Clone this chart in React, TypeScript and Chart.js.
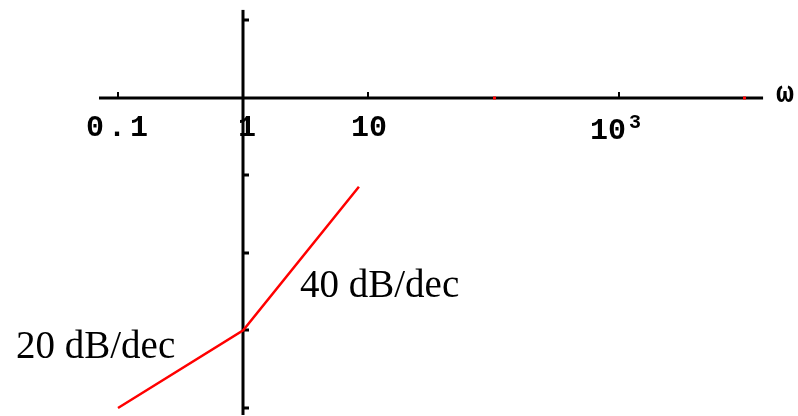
import React, { useEffect, useRef } from "react";
import { Chart, registerables } from "chart.js";

Chart.register(...registerables);

// Asymptotic Bode magnitude: 20 dB/dec below ω = 1, 40 dB/dec above
const omega = [0.1, 1, 8.4];
const gainDb = [-80, -60, -23];

// Frequency axis: labelled decades and the red marks on the axis
const xTickValues = [0.1, 1, 10, 1000];
const xTickText = ["0.1", "1", "10", "10"];
const xTickSup = ["", "", "", "3"];
const xRedMarks = [100, 10000];
const xAxisRange = [0.0705, 14200];

// Magnitude axis ticks (dB)
const yTickValues = [20, -20, -40, -60, -80];
const yAxisRange = [22.6, -81.8];

const slopeLabels = ["20 dB/dec", "40 dB/dec"];

const axesPlugin = {
  id: "crossAxes",
  beforeDatasetsDraw(chart: any) {
    const ctx = chart.ctx as CanvasRenderingContext2D;
    const xs = chart.scales.x;
    const ys = chart.scales.y;
    const y0 = Math.round(ys.getPixelForValue(0));
    const x1 = Math.round(xs.getPixelForValue(1));
    ctx.save();
    ctx.fillStyle = "#000";
    // horizontal axis
    const xa = xs.getPixelForValue(xAxisRange[0]);
    const xb = xs.getPixelForValue(xAxisRange[1]);
    ctx.fillRect(xa, y0 - 1.5, xb - xa, 3);
    // vertical axis
    const ya = ys.getPixelForValue(yAxisRange[0]);
    const yb = ys.getPixelForValue(yAxisRange[1]);
    ctx.fillRect(x1 - 1.5, ya, 3, yb - ya);

    // x ticks (upward) and labels
    xTickValues.forEach((v, i) => {
      const px = Math.round(xs.getPixelForValue(v));
      ctx.fillStyle = "#000";
      ctx.fillRect(px - 1, y0 - 6, 2, 6);
      ctx.font = "bold 30px 'Liberation Mono', monospace";
      ctx.textBaseline = "alphabetic";
      const txt = xTickText[i];
      const sup = xTickSup[i];
      const w = ctx.measureText(txt).width;
      if (sup) {
        ctx.textAlign = "left";
        ctx.fillText(txt, px - 29, y0 + 41);
        ctx.font = "bold 20px 'Liberation Mono', monospace";
        ctx.fillText(sup, px - 29 + w + 3, y0 + 30);
      } else {
        ctx.textAlign = "center";
        ctx.letterSpacing = txt === "0.1" ? "4px" : "0px";
        ctx.fillText(txt, px + (txt === "1" ? 4 : 1), y0 + 38);
        ctx.letterSpacing = "0px";
      }
    });
    // red marks
    ctx.fillStyle = "#ff0000";
    xRedMarks.forEach((v) => {
      const px = Math.round(xs.getPixelForValue(v));
      ctx.fillRect(px - 1, y0 - 1.5, 3, 3);
    });

    // y ticks to the right of the axis
    ctx.fillStyle = "#000";
    yTickValues.forEach((v) => {
      const py = Math.round(ys.getPixelForValue(v));
      ctx.fillRect(x1, py - 1.5, 6, 3);
    });

    // ω label at the end of the frequency axis
    ctx.font = "bold 30px 'Liberation Mono', monospace";
    ctx.textAlign = "left";
    ctx.fillText("ω", 776, y0 + 4);

    // slope annotations
    ctx.font = "39px 'Liberation Serif', serif";
    ctx.fillText(slopeLabels[0], 16, 358);
    ctx.fillText(slopeLabels[1], 300, 297);
    ctx.restore();
  },
};

export default function App() {
  const ref = useRef<HTMLCanvasElement>(null);
  useEffect(() => {
    document.body.style.margin = "0";
    const chart = new Chart(ref.current!, {
      type: "line",
      data: {
        datasets: [
          {
            data: omega.map((w, i) => ({ x: w, y: gainDb[i] })),
            borderColor: "#ff0000",
            borderWidth: 2.5,
            pointRadius: 0,
            fill: false,
            tension: 0,
            clip: false as any,
          },
        ],
      },
      options: {
        animation: false,
        responsive: false,
        events: [],
        layout: { padding: { left: 118, right: 54, top: 20, bottom: 8 } },
        plugins: { legend: { display: false }, tooltip: { enabled: false } },
        scales: {
          x: { type: "logarithmic", min: 0.1, max: 10000, display: false },
          y: { type: "linear", min: -80, max: 20, display: false },
        },
      },
      plugins: [axesPlugin],
    });
    return () => chart.destroy();
  }, []);
  return (
    <div style={{ width: 798, height: 416, background: "#fff" }}>
      <canvas ref={ref} width={798} height={416} />
    </div>
  );
}
